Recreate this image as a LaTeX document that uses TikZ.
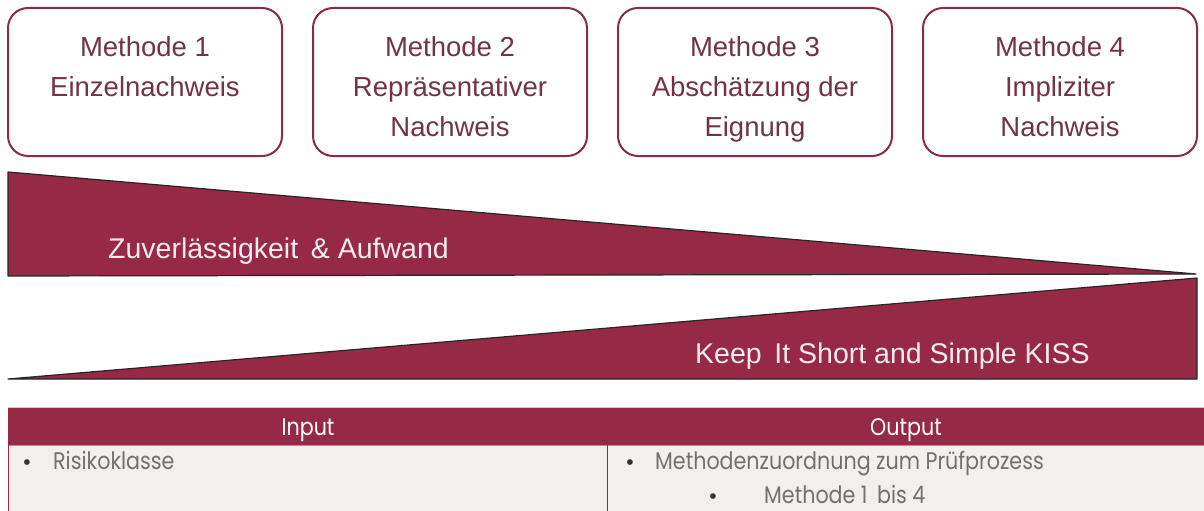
\documentclass[tikz,border=0pt]{standalone}
\usepackage{fontspec}
\setmainfont{Liberation Sans}
\newfontfamily\geofont[FakeStretch=0.86]{Poppins}
\definecolor{maroon}{RGB}{150,42,70}
\definecolor{boxline}{RGB}{135,45,75}
\definecolor{boxtext}{RGB}{115,50,70}
\definecolor{pinkwhite}{RGB}{252,236,242}
\definecolor{rowbg}{RGB}{243,239,239}
\definecolor{rowtext}{RGB}{115,112,112}
\tikzset{
  methodbox/.style={draw=boxline, line width=2pt, rounded corners=20pt, fill=white},
  methodtext/.style={anchor=north, align=center, inner sep=0pt, text=boxtext,
    font=\fontsize{27.5}{40}\selectfont},
  wedge/.style={fill=maroon, draw=black!85, line width=1.2pt, line join=round},
  wedgetext/.style={anchor=base west, inner sep=0pt, text=pinkwhite,
    font=\fontsize{28.5}{34}\selectfont},
  headtext/.style={anchor=base, inner sep=0pt, text=white,
    font=\geofont\fontsize{24}{28}\selectfont},
  celltext/.style={anchor=base west, inner sep=0pt, text=rowtext,
    font=\geofont\fontsize{24}{28}\selectfont},
  bulletdot/.style={anchor=base, inner sep=0pt, text=black!80,
    font=\fontsize{21}{28}\selectfont}
}
\begin{document}
\begin{tikzpicture}[x=1pt,y=-1pt]
\useasboundingbox (0,0) rectangle (1204,511);
\fill[white] (0,0) rectangle (1204,511);
% method boxes
\foreach \i/\xl in {1/8,2/313,3/618,4/923}{
  \draw[methodbox] (\xl,8) rectangle ++(274,148);
  \coordinate (c\i) at (\xl+137,36);
}
\node[methodtext] (m1) at (c1) {Methode 1\\Einzelnachweis};
\node[methodtext] (m2) at (c2) {Methode 2\\Repräsentativer\\Nachweis};
\node[methodtext] (m3) at (c3) {Methode 3\\Abschätzung der\\Eignung};
\node[methodtext] (m4) at (c4) {Methode 4\\Impliziter\\Nachweis};
% wedges
\draw[wedge] (8,172) -- (1196,274) -- (8,276) -- cycle;
\draw[wedge] (8,379) -- (1197,278) -- (1197,379) -- cycle;
\node[wedgetext] (z) at (108,258) {Zuverlässigkeit \,\& Aufwand};
\node[wedgetext] (k) at (695,363) {Keep \,It Short and Simple KISS};
% table
\fill[maroon] (8,407) rectangle (1204,445);
\draw[white!70!maroon, line width=1pt] (8,407.5) -- (1204,407.5);
\fill[rowbg] (8,445) rectangle (1204,511);
\draw[pink!60!maroon, line width=1pt] (8,445) -- (1204,445);
\draw[maroon, line width=1pt] (8.5,445) -- (8.5,511);
\draw[maroon, line width=1pt] (607,445) -- (607,511);
\node[headtext] (hin) at (308,435) {Input};
\node[headtext] (hout) at (906,435) {Output};
\node[bulletdot] (b1) at (27,469) {•};
\node[celltext] (t1) at (53,469) {Risikoklasse};
\node[bulletdot] (b2) at (630,469) {•};
\node[celltext] (t2) at (655,469) {Methodenzuordnung zum Prüfprozess};
\node[bulletdot] (b3) at (713,503) {•};
\node[celltext] (t3) at (764,503) {Methode 1 \,bis 4};
\end{tikzpicture}
\end{document}
